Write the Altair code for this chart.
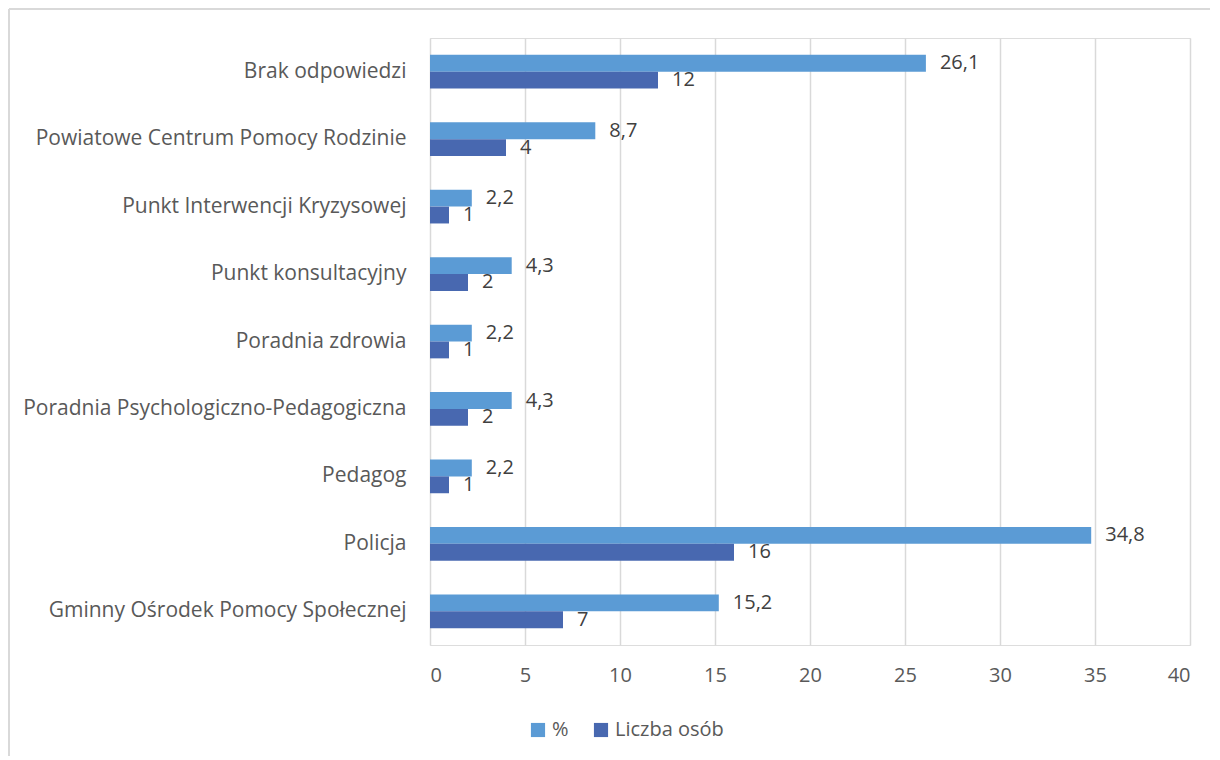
import altair as alt
import pandas as pd

categories = [
    "Brak odpowiedzi",
    "Powiatowe Centrum Pomocy Rodzinie",
    "Punkt Interwencji Kryzysowej",
    "Punkt konsultacyjny",
    "Poradnia zdrowia",
    "Poradnia Psychologiczno-Pedagogiczna",
    "Pedagog",
    "Policja",
    "Gminny Ośrodek Pomocy Społecznej",
]
pct = [26.1, 8.7, 2.2, 4.3, 2.2, 4.3, 2.2, 34.8, 15.2]
count = [12, 4, 1, 2, 1, 2, 1, 16, 7]
series = ["%", "Liczba osób"]
colors = ["#5B9BD5", "#4868B0"]

rows = []
for c, p, n in zip(categories, pct, count):
    rows.append({"cat": c, "series": series[0], "value": p, "label": f"{p:g}".replace(".", ",")})
    rows.append({"cat": c, "series": series[1], "value": n, "label": f"{n:g}".replace(".", ",")})
df = pd.DataFrame(rows)

FONT = "Open Sans"
TXT = "#595959"
FS = 20

y_enc = alt.Y("cat:N", sort=categories, title=None,
              scale=alt.Scale(paddingInner=0.5, paddingOuter=0.25),
              axis=alt.Axis(labelFontSize=21, labelColor=TXT, labelFont=FONT,
                            ticks=False, domain=False, labelPadding=24, labelLimit=500))
x_enc = alt.X("value:Q", title=None,
              scale=alt.Scale(domain=[0, 40], nice=False),
              axis=alt.Axis(values=[0, 5, 10, 15, 20, 25, 30, 35, 40], labelFontSize=FS,
                            labelColor=TXT, labelFont=FONT, ticks=False, domain=False,
                            grid=True, gridColor="#d9d9d9", gridWidth=1.5, labelPadding=20))
yoff = alt.YOffset("series:N", sort=series, scale=alt.Scale(paddingInner=0, paddingOuter=0))

bars = alt.Chart(df).mark_bar().encode(
    y=y_enc, x=x_enc, yOffset=yoff,
    color=alt.Color("series:N", sort=series,
                    scale=alt.Scale(domain=series, range=colors),
                    legend=alt.Legend(title=None, orient="none", legendX=98, legendY=682,
                                      direction="horizontal", symbolType="square",
                                      symbolSize=200, symbolStrokeWidth=0,
                                      labelFontSize=FS, labelColor=TXT, labelFont=FONT,
                                      columnPadding=22, labelOffset=4)),
)

labels = alt.Chart(df).mark_text(align="left", baseline="middle", dx=14, fontSize=FS,
                                 font=FONT, color="#404040").encode(
    y=alt.Y("cat:N", sort=categories), x="value:Q", yOffset=yoff, text="label:N")

frame_df = pd.DataFrame({"a": [0]})
left_line = alt.Chart(frame_df).mark_rule(color="#d9d9d9", strokeWidth=2).encode(
    x=alt.value(-421), y=alt.value(-29), y2=alt.value(718))
top_line = alt.Chart(frame_df).mark_rule(color="#d9d9d9", strokeWidth=2).encode(
    x=alt.value(-421), x2=alt.value(780), y=alt.value(-29))

chart = alt.layer(bars, labels, left_line, top_line).properties(
    width=760, height=607, padding=0
).configure_view(stroke=None).configure(font=FONT)

chart.save("out.html", embed_options={"renderer": "svg", "actions": False})
